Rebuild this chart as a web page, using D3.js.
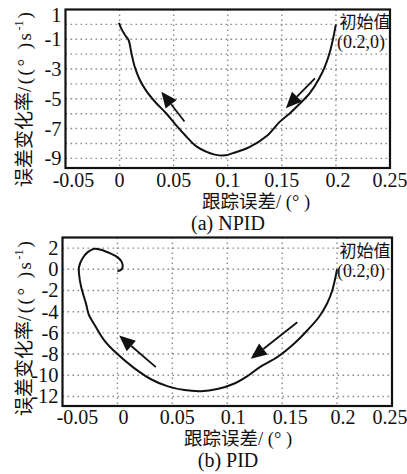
<!DOCTYPE html>
<html>
<head>
<meta charset="utf-8">
<script src="https://cdn.jsdelivr.net/npm/d3@7"></script>
<style>
  body { margin: 0; background: #fff; }
  svg text { font-family: "Liberation Serif", "Times New Roman", serif; fill: #111; }
  svg text.cjk, svg tspan.cjk { font-family: "Noto Sans CJK SC", sans-serif; }
</style>
</head>
<body>
<svg id="chart" width="407" height="474"></svg>
<script>
// x axis shared by both panels
const xTicks = [-0.05, 0, 0.05, 0.1, 0.15, 0.2, 0.25];
const xTickLabels = ["-0.05", "0", "0.05", "0.1", "0.15", "0.2", "0.25"];

// (a) NPID phase trajectory
const npidX = [0.200, 0.195, 0.190, 0.184, 0.176, 0.167, 0.157, 0.148, 0.136, 0.120,
  0.105, 0.098, 0.088, 0.080, 0.071, 0.060, 0.052, 0.043, 0.034, 0.025,
  0.0185, 0.014, 0.011, 0.0083, 0.006, 0.004, 0.0015, -0.0006];
const npidY = [0.0, -1.7, -2.8, -3.7, -4.6, -5.3, -6.0, -6.55, -7.5, -8.25,
  -8.65, -8.8, -8.75, -8.55, -8.2, -7.4, -6.75, -5.97, -5.3, -4.5,
  -3.7, -2.85, -1.95, -1.05, -0.82, -0.6, -0.27, 0.1];
const npidYGrid = [0, -1, -2, -3, -4, -5, -6, -7, -8, -9];
const npidYTicks = [1, -1, -3, -5, -7, -9];
// arrows: [tailX, tailY, tipX, tipY]
const npidArrows = [[0.060, -6.53, 0.0386, -4.52], [0.1806, -3.62, 0.1537, -5.63]];

// (b) PID phase trajectory
const pidX = [0.200, 0.1956, 0.191, 0.1835, 0.173, 0.161, 0.146, 0.130, 0.118, 0.106,
  0.091, 0.076, 0.061, 0.046, 0.031, 0.015, 0.0, -0.012, -0.021, -0.026,
  -0.0286, -0.033, -0.035, -0.035, -0.032, -0.027, -0.021, -0.015, -0.006, 0.0,
  0.004, 0.0047, 0.0025, 0.0];
const pidY = [0.0, -2.0, -3.2, -4.5, -5.75, -7.0, -8.25, -9.2, -10.1, -10.8,
  -11.3, -11.5, -11.4, -11.05, -10.4, -9.3, -8.0, -6.7, -5.2, -4.3,
  -3.24, -1.67, -0.4, 0.2, 1.0, 1.62, 1.94, 1.84, 1.47, 1.15,
  0.68, 0.2, -0.1, -0.15];
const pidYTicks = [2, 0, -2, -4, -6, -8, -10, -12];
const pidArrows = [[0.035, -9.23, 0.0016, -6.25], [0.1638, -5.0, 0.1214, -8.45]];

const serif = "'Liberation Serif', 'Times New Roman', serif";
const svg = d3.select("#chart");

const panels = [
  { x: npidX, y: npidY, grid: npidYGrid, ticks: npidYTicks, arrows: npidArrows,
    left: 65.5, right: 390, top: 9.5, bottom: 168, yDomain: [-9.65, 1],
    xLabelY: 187, xLabelDx: [8, 0, 0, 0, 0, 2, 0], firstYShift: 5,
    xTitleY: 207.5, xTitleX: 256, caption: "(a) NPID", captionY: 229.5,
    yTitleStart: 187, initY: 22 },
  { x: pidX, y: pidY, grid: pidYTicks, ticks: pidYTicks, arrows: pidArrows,
    left: 62.5, right: 392, top: 237.5, bottom: 406, yDomain: [-12.9, 3],
    xLabelY: 424, xLabelDx: [15, 6, 5, 6, 8, 6, -2], firstYShift: 0,
    xTitleY: 444.5, xTitleX: 238, caption: "(b) PID", captionY: 467,
    yTitleStart: 416, initY: 251 }
];

panels.forEach(p => {
  const x = d3.scaleLinear().domain([-0.05, 0.25]).range([p.left, p.right]);
  const y = d3.scaleLinear().domain(p.yDomain).range([p.bottom, p.top]);
  const g = svg.append("g");

  // dotted grid
  g.selectAll(".vg").data(xTicks.slice(1, -1)).join("line")
    .attr("x1", d => x(d)).attr("x2", d => x(d))
    .attr("y1", p.top).attr("y2", p.bottom)
    .attr("stroke", "#8c8c8c").attr("stroke-width", 1.4).attr("stroke-dasharray", "1.6,3.4");
  g.selectAll(".hg").data(p.grid).join("line")
    .attr("x1", p.left).attr("x2", p.right)
    .attr("y1", d => y(d)).attr("y2", d => y(d))
    .attr("stroke", "#8c8c8c").attr("stroke-width", 1.4).attr("stroke-dasharray", "1.6,3.4");

  // frame
  g.append("rect")
    .attr("x", p.left).attr("y", p.top)
    .attr("width", p.right - p.left).attr("height", p.bottom - p.top)
    .attr("fill", "none").attr("stroke", "#111").attr("stroke-width", 2.2);

  // tick labels
  g.selectAll(".xl").data(xTicks).join("text")
    .attr("x", (d, i) => x(d) + p.xLabelDx[i]).attr("y", p.xLabelY)
    .attr("text-anchor", "middle").attr("font-size", 20)
    .style("font-family", serif)
    .text((d, i) => xTickLabels[i]);
  g.selectAll(".yl").data(p.ticks).join("text")
    .attr("x", p.left - 4)
    .attr("y", (d, i) => y(d) + 7 + (i === 0 ? p.firstYShift : 0))
    .attr("text-anchor", "end").attr("font-size", 20.5)
    .style("font-family", serif)
    .text(d => d);

  // trajectory
  const pts = p.x.map((v, i) => [v, p.y[i]]);
  const line = d3.line().x(d => x(d[0])).y(d => y(d[1])).curve(d3.curveCatmullRom.alpha(0.5));
  g.append("path").attr("d", line(pts))
    .attr("fill", "none").attr("stroke", "#111").attr("stroke-width", 2);

  // direction arrows
  p.arrows.forEach(a => {
    const x1 = x(a[0]), y1 = y(a[1]), x2 = x(a[2]), y2 = y(a[3]);
    const ang = Math.atan2(y2 - y1, x2 - x1);
    const len = 16, half = 7;
    const bx = x2 - len * Math.cos(ang), by = y2 - len * Math.sin(ang);
    g.append("line").attr("x1", x1).attr("y1", y1).attr("x2", bx).attr("y2", by)
      .attr("stroke", "#111").attr("stroke-width", 1.8);
    g.append("path")
      .attr("d", `M${x2},${y2}L${bx - half * Math.sin(ang)},${by + half * Math.cos(ang)}L${bx + half * Math.sin(ang)},${by - half * Math.cos(ang)}Z`)
      .attr("fill", "#111");
  });

  // initial value note
  g.append("text").attr("class", "cjk")
    .attr("x", 365).attr("y", p.initY + 6).attr("text-anchor", "middle")
    .attr("font-size", 17).text("初始值");
  g.append("text")
    .attr("x", 361).attr("y", p.initY + 26).attr("text-anchor", "middle")
    .attr("font-size", 18).attr("fill", "#333").style("font-family", serif).text("(0.2,0)");

  // axis titles
  const xt = g.append("text").attr("x", p.xTitleX).attr("y", p.xTitleY)
    .attr("text-anchor", "middle").attr("font-size", 18.5).style("font-family", serif);
  xt.append("tspan").attr("class", "cjk").text("跟踪误差");
  xt.append("tspan").text("/ (°  )");

  const yt = g.append("text")
    .attr("transform", `translate(31,${p.yTitleStart}) rotate(-90)`)
    .attr("text-anchor", "start").attr("font-size", 19).style("font-family", serif);
  yt.append("tspan").attr("class", "cjk").text("误差变化率");
  yt.append("tspan").attr("letter-spacing", 2.5).text("/((°  )s");
  yt.append("tspan").attr("font-size", 12).attr("dy", -8).text("-1");
  yt.append("tspan").attr("dy", 8).attr("dx", 2).text(")");

  g.append("text").attr("x", 228).attr("y", p.captionY)
    .attr("text-anchor", "middle").attr("font-size", 20).style("font-family", serif).text(p.caption);
});
</script>
</body>
</html>
